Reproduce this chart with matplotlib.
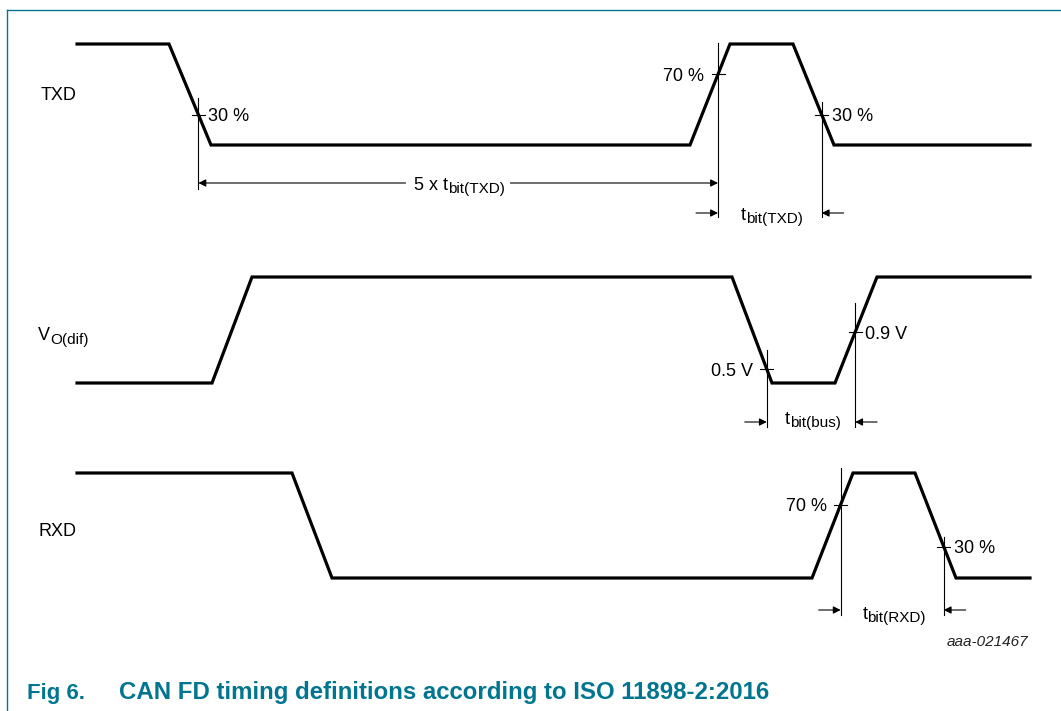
import matplotlib
matplotlib.use("Agg")
import matplotlib.pyplot as plt
import numpy as np

plt.rcParams["font.family"] = ["Liberation Sans", "DejaVu Sans"]

TEAL = "#00758f"
SIZE = 13
SUB_SIZE = 11

# waveform vertices: time along the diagram and logic level (1 = high)
TXD_T = [77, 169, 211, 690, 730, 793, 834, 1030]
TXD_LV = [1, 1, 0, 0, 1, 1, 0, 0]
VOD_T = [77, 212, 252, 732, 772, 835, 877, 1030]
VOD_LV = [0, 0, 1, 1, 0, 0, 1, 1]
RXD_T = [77, 292, 332, 812, 853, 915, 956, 1030]
RXD_LV = [1, 1, 0, 0, 1, 1, 0, 0]

ROW_MAIN = ["TXD", "V", "RXD"]
ROW_SUB = ["", "O(dif)", ""]
ROW_HIGH = [44, 277, 473]
ROW_LOW = [145, 383, 578]
ROW_BASE = [100, 340, 536]
ROW_X = [41, 38, 38]

# threshold crossings: row, edge start index, fraction of swing, label, label side
THR_ROW = [0, 0, 0, 1, 1, 2, 2]
THR_EDGE = [1, 3, 5, 3, 5, 3, 5]
THR_FRAC = [0.3, 0.7, 0.3, 0.13, 0.48, 0.7, 0.3]
THR_TEXT = ["30 %", "70 %", "30 %", "0.5 V", "0.9 V", "70 %", "30 %"]
THR_SIDE = ["right", "left", "right", "left", "right", "left", "right"]
THR_TOP = [98, 43, 102, 350, 303, 468, 537]
THR_BOT = [189, 217, 217, 427, 427, 615, 615]

# bit-time dimensions between two crossings (indices into THR_*)
DIM_PAIR = [(1, 2), (3, 4), (5, 6)]
DIM_Y = [213, 422, 610]
DIM_BASE = [220, 424, 619]
DIM_SUB = ["bit(TXD)", "bit(bus)", "bit(RXD)"]


def level_to_y(row, lv):
    return ROW_LOW[row] + (ROW_HIGH[row] - ROW_LOW[row]) * np.asarray(lv, dtype=float)


def crossing(k):
    row = THR_ROW[k]
    t, lv = [TXD_T, VOD_T, RXD_T][row], [TXD_LV, VOD_LV, RXD_LV][row]
    i = THR_EDGE[k]
    f = THR_FRAC[k]
    a, b = lv[i], lv[i + 1]
    s = (f - a) / (b - a)
    return t[i] + s * (t[i + 1] - t[i]), float(level_to_y(row, f))


fig = plt.figure(figsize=(10.61, 7.11), dpi=100)
ax = fig.add_axes([0, 0, 1, 1])
ax.set_xlim(0, 1061)
ax.set_ylim(711, 0)
ax.axis("off")
renderer = fig.canvas.get_renderer()


def width_of(t):
    return t.get_window_extent(renderer).width


def sub_text(x, base, main, sub, ha="left", drop=4):
    # main text with a larger-than-mathtext subscript, as in the datasheet
    t1 = ax.text(x, base, main, fontsize=SIZE, va="baseline", ha="left")
    w1 = width_of(t1)
    t2 = ax.text(x + w1, base + drop, sub, fontsize=SUB_SIZE, va="baseline", ha="left")
    total = w1 + (width_of(t2) if sub else 0)
    if ha == "center":
        t1.set_x(x - total / 2)
        t2.set_x(x - total / 2 + w1)
    return x - total / 2 if ha == "center" else x, total


# frame
ax.plot([7, 1061], [10, 10], color=TEAL, lw=1.0)
ax.plot([7, 7], [10, 711], color=TEAL, lw=1.0)

for row, (t, lv) in enumerate([(TXD_T, TXD_LV), (VOD_T, VOD_LV), (RXD_T, RXD_LV)]):
    ax.plot(t, level_to_y(row, lv), color="black", lw=2.3, solid_joinstyle="miter")
    sub_text(ROW_X[row], ROW_BASE[row], ROW_MAIN[row], ROW_SUB[row])

xs = []
for k in range(len(THR_FRAC)):
    x, y = crossing(k)
    xs.append(x)
    ax.plot([x, x], [THR_TOP[k], THR_BOT[k]], color="black", lw=0.8)
    ax.plot([x - 6.5, x + 6.5], [y, y], color="black", lw=0.8)
    if THR_SIDE[k] == "right":
        ax.text(x + 10, y + 6.5, THR_TEXT[k], fontsize=SIZE, va="baseline", ha="left")
    else:
        ax.text(x - 14, y + 6.5, THR_TEXT[k], fontsize=SIZE, va="baseline", ha="right")

arrow = dict(arrowstyle="-|>", color="black", lw=0.8, mutation_scale=11,
             shrinkA=0, shrinkB=0)

# 5 x t_bit(TXD) span
x0, x1 = xs[0], xs[1]
left, w = sub_text(459, 190, "5 x t", "bit(TXD)", ha="center", drop=3)
ax.annotate("", xy=(x0, 183), xytext=(left - 8, 183), arrowprops=arrow)
ax.annotate("", xy=(x1, 183), xytext=(left + w + 6, 183), arrowprops=arrow)

for (a, b), y, base, sub in zip(DIM_PAIR, DIM_Y, DIM_BASE, DIM_SUB):
    xa, xb = xs[a], xs[b]
    ax.annotate("", xy=(xa, y), xytext=(xa - 22, y), arrowprops=arrow)
    ax.annotate("", xy=(xb, y), xytext=(xb + 22, y), arrowprops=arrow)
    sub_text((xa + xb) / 2 + 2, base, "t", sub, ha="center", drop=3)

ax.text(1028, 646, "aaa-021467", fontsize=11, style="italic", color="#222222",
        ha="right", va="baseline")

ax.text(27, 699, "Fig 6.", fontsize=16, fontweight="bold", color=TEAL, va="baseline")
ax.text(119, 699, "CAN FD timing definitions according to ISO 11898-2:2016",
        fontsize=17.3, fontweight="bold", color=TEAL, va="baseline")

fig.savefig("out.png", dpi=100)
